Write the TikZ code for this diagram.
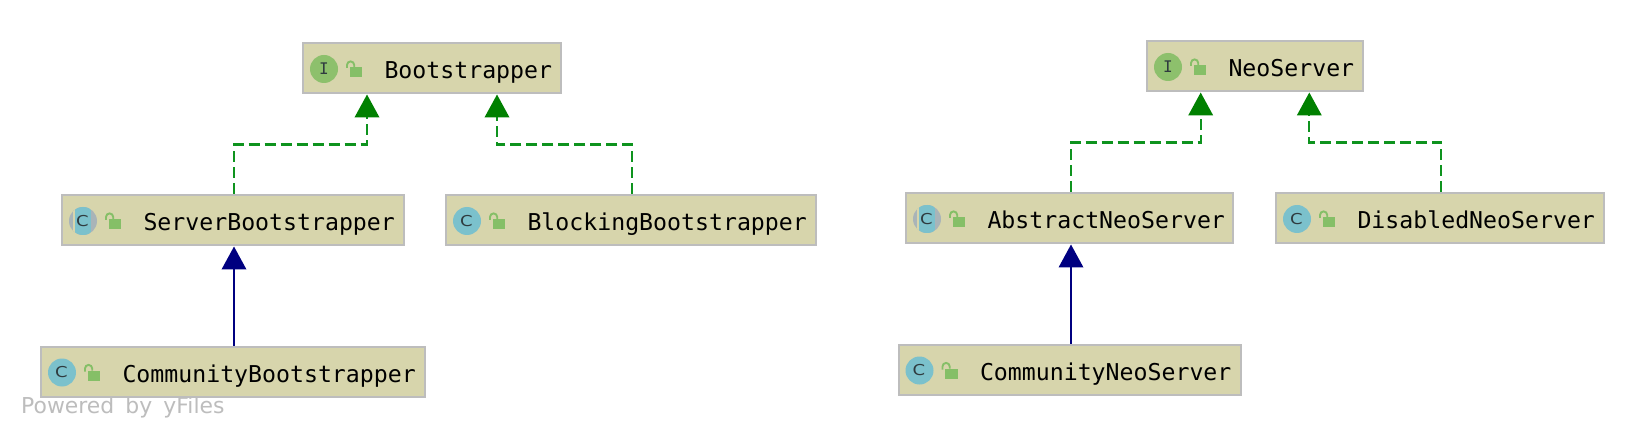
\documentclass[tikz,border=0pt]{standalone}
\usepackage{fontspec}
\setmonofont{DejaVu Sans Mono}
\setsansfont[WordSpace=1.6]{DejaVu Sans}
\usetikzlibrary{arrows.meta,calc}
\definecolor{boxfill}{HTML}{D7D5AC}
\definecolor{boxline}{HTML}{BDBDBD}
\definecolor{ifacec}{HTML}{8DC06C}
\definecolor{classc}{HTML}{7BC1CC}
\definecolor{absgrey}{HTML}{A9B4B8}
\definecolor{lockc}{HTML}{85BF67}
\definecolor{iconink}{HTML}{2F3B3F}
\definecolor{implc}{HTML}{008000}
\definecolor{impll}{HTML}{0E931E}
\definecolor{extc}{HTML}{000080}
\definecolor{wm}{HTML}{BDBDBD}
\tikzset{
  x=1pt,y=-1pt,
  umlbox/.style={draw=boxline,fill=boxfill,line width=2pt,inner sep=0pt,anchor=north west},
  umltext/.style={font=\ttfamily\fontsize{23.2}{26}\selectfont,text=black,inner sep=0pt,anchor=base west},
  icontext/.style={font=\ttfamily\fontsize{16}{18}\selectfont,text=iconink,inner sep=0pt},
  iconc/.style={font=\sffamily\fontsize{15}{16}\selectfont,text=iconink,inner sep=0pt},
  impl/.style={draw=impll,line width=2.2pt,dash pattern=on 11pt off 5pt,-{Triangle[width=24.5pt,length=23pt,color=implc,sep=0pt]}},
  ext/.style={draw=extc,line width=2pt,-{Triangle[width=24.5pt,length=23pt,color=extc,sep=0pt]}},
}
% name, left, top, right, bottom, text
\newcommand{\umlnode}[6]{%
  \node[umlbox,minimum width=#4-#2,minimum height=#5-#3] (#1) at (#2,#3) {};
  \node[umltext] (#1-t) at (#2+82.3,#3+36.5) {#6};
  \fill[lockc] (#2+47.5,#3+25) rectangle (#2+60,#3+35.5);
  \draw[lockc,line width=1.9pt] (#2+45,#3+26) -- (#2+45,#3+23) arc[start angle=180,end angle=360,radius=3.6] -- (#2+52.2,#3+25);
}
\newcommand{\ifaceicon}[3]{%
  \fill[ifacec] (#1+22,#2+27) circle[radius=14];
  \node[icontext] (#3-i) at (#1+22,#2+27) {I};
}
\newcommand{\classicon}[3]{%
  \fill[classc] (#1+22,#2+27) circle[radius=14];
  \node[iconc] (#3-i) at (#1+21.5,#2+27) {\scalebox{1.2}[1]{C}};
}
\newcommand{\abstracticon}[3]{%
  \fill[absgrey] (#1+22,#2+27) circle[radius=14];
  \begin{scope}
    \clip (#1+22,#2+27) circle[radius=14];
    \fill[boxfill] (#1+12,#2+10) rectangle (#1+14,#2+44);
    \fill[classc] (#1+14,#2+10) rectangle (#1+30,#2+44);
  \end{scope}
  \node[iconc] (#3-i) at (#1+21.5,#2+27) {\scalebox{1.2}[1]{C}};
}
\begin{document}
\begin{tikzpicture}
\useasboundingbox (1,1) rectangle (1647,439);
\fill[white] (1,1) rectangle (1647,439);
\node[font=\sffamily\fontsize{21.9}{24}\selectfont,text=wm,inner sep=0pt,anchor=base west] (yf) at (22,414) {Powered by yFiles};

\umlnode{bs}{303}{43}{560.5}{93.5}{Bootstrapper}\ifaceicon{303}{43}{bs}
\umlnode{sb}{62}{195}{404}{245.5}{ServerBootstrapper}\abstracticon{62}{195}{sb}
\umlnode{bb}{446}{195}{815.5}{245.5}{BlockingBootstrapper}\classicon{446}{195}{bb}
\umlnode{cb}{41}{346.5}{425}{397}{CommunityBootstrapper}\classicon{41}{346.5}{cb}
\umlnode{ns}{1147}{41}{1362.5}{91.5}{NeoServer}\ifaceicon{1147}{41}{ns}
\umlnode{an}{906}{193}{1233}{243.5}{AbstractNeoServer}\abstracticon{906}{193}{an}
\umlnode{dn}{1276}{193}{1604}{243.5}{DisabledNeoServer}\classicon{1276}{193}{dn}
\umlnode{cn}{898.5}{344.5}{1241}{395}{CommunityNeoServer}\classicon{898.5}{344.5}{cn}

\coordinate (bs1) at ($(bs.south west)+(65,0)$);
\coordinate (bs2) at ($(bs.south west)+(195,0)$);
\coordinate (ns1) at ($(ns.south west)+(54.7,0)$);
\coordinate (ns2) at ($(ns.south west)+(163.3,0)$);
\coordinate (sbn) at ($(sb.north)+(1,0)$);
\coordinate (bbn) at ($(bb.north)+(1,0)$);
\coordinate (ann) at ($(an.north)+(1.5,0)$);
\coordinate (dnn) at ($(dn.north)+(1,0)$);

\draw[impl] (sbn) -- ++(0,-49.5) -| (bs1);
\draw[impl] (bbn) -- ++(0,-49.5) -| (bs2);
\draw[impl] (ann) -- ++(0,-49.5) -| (ns1);
\draw[impl] (dnn) -- ++(0,-49.5) -| (ns2);
\draw[ext] (cb.north -| sbn) -- (sb.south -| sbn);
\draw[ext] (cn.north -| ann) -- (an.south -| ann);
\end{tikzpicture}
\end{document}
